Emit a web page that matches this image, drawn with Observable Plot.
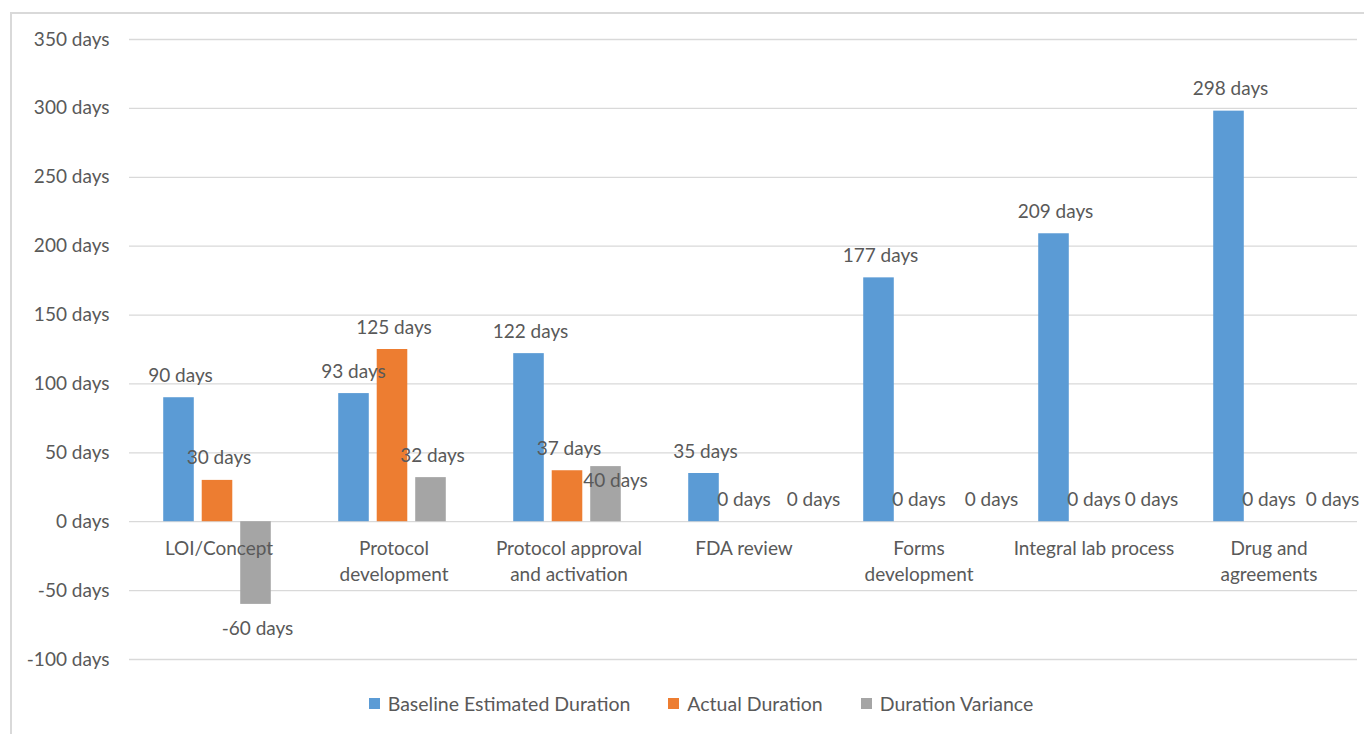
<!DOCTYPE html>
<html>
<head>
<meta charset="utf-8">
<script src="https://cdn.jsdelivr.net/npm/d3@7"></script>
<script src="https://cdn.jsdelivr.net/npm/@observablehq/plot@0.6"></script>
<style>
  html, body { margin: 0; padding: 0; background: #fff; }
  body { width: 1364px; height: 734px; position: relative; overflow: hidden; font-family: Lato, "Open Sans", sans-serif; }
  #frame { position: absolute; left: 10px; top: 12px; width: 1400px; height: 760px; border: 2px solid #d9d9d9; box-sizing: border-box; }
  #chart { position: absolute; left: 0; top: 0; }
  #legend { position: absolute; left: 19px; top: 692px; width: 1364px; display: flex; justify-content: center; gap: 0; color: #595959; font-size: 19.5px; }
  .item { display: flex; align-items: center; margin: 0 19px; }
  .sw { width: 11px; height: 11px; margin-right: 8px; display: inline-block; }
</style>
</head>
<body>
<div id="frame"></div>
<div id="chart"></div>
<div id="legend"></div>
<script>
const categories = ["LOI/Concept", "Protocol development", "Protocol approval and activation", "FDA review", "Forms development", "Integral lab process", "Drug and agreements"];
const categoryLabels = ["LOI/Concept", "Protocol\ndevelopment", "Protocol approval\nand activation", "FDA review", "Forms\ndevelopment", "Integral lab process", "Drug and\nagreements"];
const series = ["Baseline Estimated Duration", "Actual Duration", "Duration Variance"];
const baseline = [90, 93, 122, 35, 177, 209, 298];
const actual = [30, 125, 37, 0, 0, 0, 0];
const variance = [-60, 32, 40, 0, 0, 0, 0];
const yTicks = [-100, -50, 0, 50, 100, 150, 200, 250, 300, 350];
const colors = ["#5B9BD5", "#ED7D31", "#A5A5A5"];

const seriesValues = [baseline, actual, variance];
const rows = [];
series.forEach((s, si) => categories.forEach((c, ci) => rows.push({category: c, series: s, si, value: seriesValues[si][ci]})));

const W = 1364, H = 680;
const marginLeft = 129, marginRight = 7, marginTop = 39, marginBottom = 21;
const band = (W - marginLeft - marginRight) / categories.length;
const barW = 31, step = 38.5;
const inset = (band - barW) / 2;
const offsets = [-step, 0, step];
const FS = 19;

// label nudges (Excel's overlap avoidance)
const nudge = {
  "Protocol approval and activation|Duration Variance": [8, 36],
  "FDA review|Duration Variance": [31, 0],
  "Forms development|Duration Variance": [34, 0],
  "Integral lab process|Duration Variance": [19, 0],
  "Drug and agreements|Duration Variance": [25, 0],
  "Protocol development|Baseline Estimated Duration": [-2, 0]
};

const marks = [
  Plot.gridY(yTicks, {stroke: "#d9d9d9", strokeOpacity: 1, strokeWidth: 1.3}),
  Plot.axisY(yTicks, {tickSize: 0, tickPadding: 20, tickFormat: d => `${d} days`, fontSize: FS, fill: "#595959", label: null})
];
series.forEach((s, si) => {
  marks.push(Plot.barY(rows.filter(r => r.si === si), {x: "category", y: "value", fill: colors[si], insetLeft: inset, insetRight: inset, dx: offsets[si] - 1.5}));
});
rows.forEach(r => {
  const n = nudge[r.category + "|" + r.series] || [0, 0];
  marks.push(Plot.text([r], {x: "category", y: "value", text: d => `${d.value} days`, dx: offsets[r.si] + n[0], dy: (r.value < 0 ? 25 : -22) + n[1], fontSize: FS, fill: "#595959"}));
});
marks.push(Plot.text(categories, {x: d => d, y: () => 0, text: (d, i) => categoryLabels[i], lineAnchor: "top", dy: 15, fontSize: FS, lineHeight: 1.37, fill: "#595959"}));

const chart = Plot.plot({
  width: W, height: H,
  marginLeft, marginRight, marginTop, marginBottom,
  style: {fontFamily: "Lato, 'Open Sans', sans-serif", background: "transparent", overflow: "visible"},
  x: {type: "band", domain: categories, padding: 0, axis: null},
  y: {domain: [-100, 350], axis: null},
  marks
});
document.getElementById("chart").appendChild(chart);

const legend = document.getElementById("legend");
series.forEach((s, i) => {
  const item = document.createElement("div");
  item.className = "item";
  const sw = document.createElement("span");
  sw.className = "sw";
  sw.style.background = colors[i];
  item.appendChild(sw);
  item.appendChild(document.createTextNode(s));
  legend.appendChild(item);
});
</script>
</body>
</html>
